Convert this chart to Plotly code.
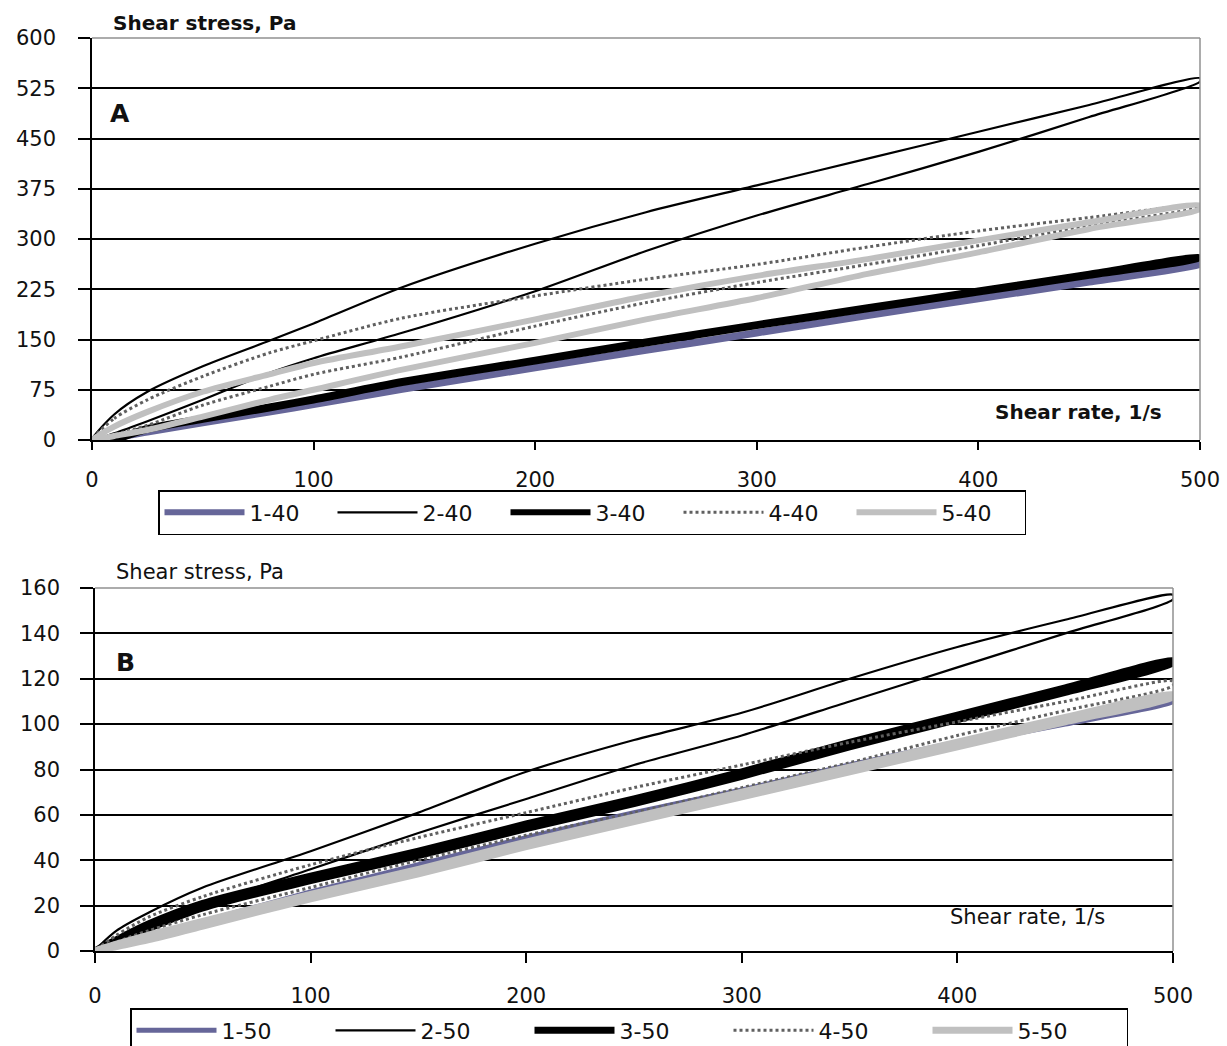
import plotly.graph_objects as go

W, H = 1227, 1046

# ---------------- Data: panel A (40) ----------------
rate_a = [0, 10, 25, 50, 80, 100, 140, 200, 250, 300, 350, 400, 450, 500]
s1_40_up = [0, 4, 12, 26, 43, 54, 77, 109, 135, 161, 187, 212, 237, 262]
s1_40_dn = [0, 3, 11, 25, 41, 52, 75, 107, 133, 159, 185, 210, 235, 261]
s2_40_up = [0, 38, 72, 110, 148, 174, 228, 293, 340, 380, 420, 460, 500, 540]
s2_40_dn = [0, 10, 28, 60, 100, 122, 160, 222, 282, 335, 382, 430, 482, 535]
s3_40_up = [0, 2, 18, 33, 50, 62, 88, 120, 147, 173, 198, 223, 248, 273]
s3_40_dn = [0, 0, 15, 30, 47, 59, 85, 117, 144, 170, 195, 220, 245, 271]
s4_40_up = [0, 32, 60, 95, 130, 148, 182, 215, 240, 262, 288, 312, 332, 350]
s4_40_dn = [0, 8, 22, 52, 80, 98, 124, 170, 205, 235, 262, 290, 320, 348]
s5_40_up = [0, 20, 42, 72, 98, 115, 140, 180, 215, 245, 270, 298, 325, 350]
s5_40_dn = [0, 6, 15, 35, 60, 75, 105, 145, 180, 212, 248, 280, 315, 345]

# ---------------- Data: panel B (50) ----------------
rate_b = [0, 10, 25, 50, 100, 150, 200, 250, 300, 350, 400, 450, 500]
s1_50_up = [0, 3, 7, 13, 26, 38, 50, 61, 71, 82, 92, 101, 111]
s1_50_dn = [0, 2, 6, 12, 25, 37, 49, 60, 70, 81, 91, 100, 110]
s2_50_up = [0, 9, 17, 28, 44, 61, 79, 93, 105, 120, 134, 146, 157]
s2_50_dn = [0, 4, 10, 20, 36, 52, 67, 82, 95, 110, 125, 140, 155]
s3_50_up = [0, 5, 12, 21, 33, 44, 56, 67, 79, 92, 104, 116, 128]
s3_50_dn = [0, 4, 10, 19, 31, 42, 54, 65, 77, 90, 102, 114, 127]
s4_50_up = [0, 7, 15, 24, 38, 50, 61, 72, 82, 92, 101, 110, 119]
s4_50_dn = [0, 4, 9, 16, 28, 40, 51, 61, 72, 83, 95, 106, 117]
s5_50_up = [0, 3, 7, 13, 25, 36, 48, 59, 70, 81, 92, 103, 113]
s5_50_dn = [0, 2, 5, 11, 23, 34, 46, 57, 68, 79, 90, 101, 112]

names_a = ["1-40", "2-40", "3-40", "4-40", "5-40"]
names_b = ["1-50", "2-50", "3-50", "4-50", "5-50"]
yticks_a = [0, 75, 150, 225, 300, 375, 450, 525, 600]
yticks_b = [0, 20, 40, 60, 80, 100, 120, 140, 160]
xticks = [0, 100, 200, 300, 400, 500]

BLUE = "#666699"
GRAY = "#c0c0c0"
FONT = "DejaVu Sans, Liberation Sans, Arial, sans-serif"

styles_a = [
    dict(color=BLUE, width=6),
    dict(color="black", width=2.2),
    dict(color="black", width=6),
    dict(color="#606060", width=3, dash="dot"),
    dict(color=GRAY, width=6),
]
styles_b = [
    dict(color=BLUE, width=5),
    dict(color="black", width=2.2),
    dict(color="black", width=7),
    dict(color="#606060", width=3, dash="dot"),
    dict(color=GRAY, width=7),
]

def px_x(p):
    return p / W

def px_y(p):
    return 1 - p / H

def loop(rate, up, dn):
    return rate + rate[::-1], up + dn[::-1]

series_a = [(s1_40_up, s1_40_dn), (s2_40_up, s2_40_dn), (s3_40_up, s3_40_dn),
            (s4_40_up, s4_40_dn), (s5_40_up, s5_40_dn)]
series_b = [(s1_50_up, s1_50_dn), (s2_50_up, s2_50_dn), (s3_50_up, s3_50_dn),
            (s4_50_up, s4_50_dn), (s5_50_up, s5_50_dn)]

fig = go.Figure()
for name, (up, dn), st in zip(names_a, series_a, styles_a):
    x, y = loop(rate_a, up, dn)
    fig.add_trace(go.Scatter(x=x, y=y, mode="lines", name=name,
                             line=dict(shape="spline", smoothing=0.8, **st),
                             xaxis="x", yaxis="y", legend="legend"))
for name, (up, dn), st in zip(names_b, series_b, styles_b):
    x, y = loop(rate_b, up, dn)
    fig.add_trace(go.Scatter(x=x, y=y, mode="lines", name=name,
                             line=dict(shape="spline", smoothing=0.8, **st),
                             xaxis="x2", yaxis="y2", legend="legend2"))

tickfont = dict(family=FONT, size=21, color="#111")

def xaxis(domain, anchor, tlen, stand):
    return dict(domain=domain, anchor=anchor, range=[0, 500], tickvals=xticks, ticks="outside",
                ticklen=tlen, tickwidth=1.5, tickcolor="black", showline=True, linecolor="black",
                linewidth=1.5, showgrid=False, zeroline=False, tickfont=tickfont,
                ticklabelstandoff=stand, fixedrange=True)

def yaxis(domain, anchor, rng, vals, tlen, stand):
    return dict(domain=domain, anchor=anchor, range=rng, tickvals=vals, ticks="outside",
                ticklen=tlen, tickwidth=1.5, tickcolor="black", showline=True, linecolor="black",
                linewidth=1.5, showgrid=True, gridcolor="black", gridwidth=1.8, zeroline=False,
                tickfont=tickfont, ticklabelstandoff=stand, fixedrange=True)

xa_dom = [px_x(92), px_x(1200)]
ya_dom = [px_y(440), px_y(38)]
xb_dom = [px_x(95), px_x(1173)]
yb_dom = [px_y(951), px_y(588)]

legfont = dict(family=FONT, size=22, color="#111")
fig.update_layout(
    width=W, height=H,
    margin=dict(l=0, r=0, t=0, b=0, autoexpand=False),
    paper_bgcolor="white", plot_bgcolor="white",
    xaxis=xaxis(xa_dom, "y", 8, 12),
    yaxis=yaxis(ya_dom, "x", [0, 600], yticks_a, 12, 18),
    xaxis2=xaxis(xb_dom, "y2", 10, 15),
    yaxis2=yaxis(yb_dom, "x2", [0, 160], yticks_b, 13, 16),
    legend=dict(orientation="h", x=px_x(158), y=px_y(490), xanchor="left", yanchor="top",
                bordercolor="black", borderwidth=1.5, font=legfont,
                itemwidth=80, entrywidth=78, entrywidthmode="pixels", tracegroupgap=0),
    legend2=dict(orientation="h", x=px_x(130), y=px_y(1008), xanchor="left", yanchor="top",
                 bordercolor="black", borderwidth=1.5, font=legfont,
                 itemwidth=80, entrywidth=104, entrywidthmode="pixels", tracegroupgap=0),
    showlegend=True,
)

# plot border (top / right) in gray
for xd, yd in [(xa_dom, ya_dom), (xb_dom, yb_dom)]:
    fig.add_shape(type="line", xref="paper", yref="paper", x0=xd[0], x1=xd[1], y0=yd[1], y1=yd[1],
                  line=dict(color="#909090", width=1.5))
    fig.add_shape(type="line", xref="paper", yref="paper", x0=xd[1], x1=xd[1], y0=yd[0], y1=yd[1],
                  line=dict(color="#909090", width=1.5))

ann = [
    dict(text="<b>Shear stress, Pa</b>", x=px_x(111), y=px_y(23), xanchor="left", size=20),
    dict(text="<b>A</b>", x=px_x(108), y=px_y(113), xanchor="left", size=25),
    dict(text="<b>Shear rate, 1/s</b>", x=px_x(1164), y=px_y(412), xanchor="right", size=20),
    dict(text="Shear stress, Pa", x=px_x(114), y=px_y(572), xanchor="left", size=21),
    dict(text="<b>B</b>", x=px_x(114), y=px_y(662), xanchor="left", size=25),
    dict(text="Shear rate, 1/s", x=px_x(1107), y=px_y(917), xanchor="right", size=21),
]
for a in ann:
    fig.add_annotation(text=a["text"], x=a["x"], y=a["y"], xref="paper", yref="paper",
                       xanchor=a["xanchor"], yanchor="middle", showarrow=False,
                       font=dict(family=FONT, size=a["size"], color="#111"))

fig.write_html("out.html", config={"displayModeBar": False},
               post_script="document.body.style.margin='0';document.body.style.padding='0';")
